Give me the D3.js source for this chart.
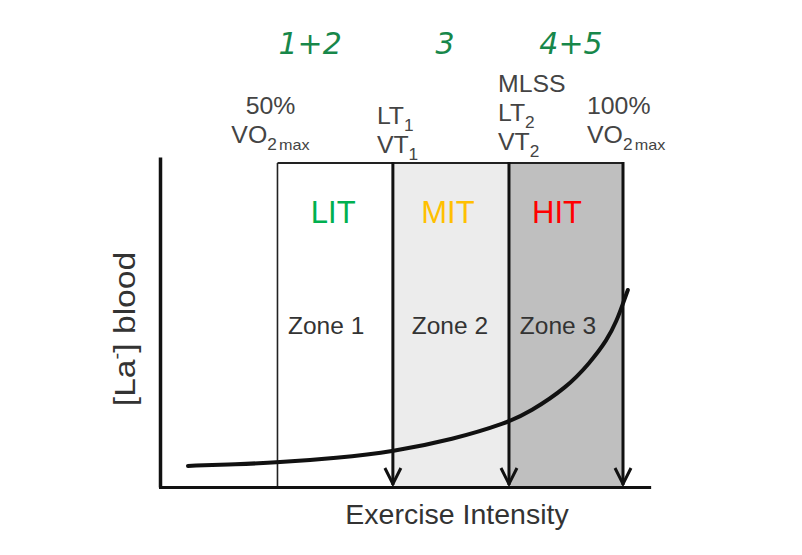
<!DOCTYPE html>
<html><head><meta charset="utf-8">
<script src="https://cdn.jsdelivr.net/npm/d3@7/dist/d3.min.js"></script>
<style>body{margin:0;background:#fff}svg{display:block}</style>
</head><body>
<svg id="c" width="802" height="555"></svg>
<script>
// ---------- data ----------
const thresholdPct = [50, 66.7, 83.5, 100];            // % VO2max
const thresholdLabels = [
  [["50%", ""], ["VO", "2 max"]],
  [["LT", "1"], ["VT", "1"]],
  [["MLSS", ""], ["LT", "2"], ["VT", "2"]],
  [["100%", ""], ["VO", "2 max"]]
];
const zoneNames = ["Zone 1", "Zone 2", "Zone 3"];
const intensityNames = ["LIT", "MIT", "HIT"];
const sessionNames = ["1+2", "3", "4+5"];
const curvePct = [37.05, 44.1, 49.9, 58.6, 66.7, 75.4, 83.2, 86.5, 91.9, 95.2, 97.7, 99.1, 100, 100.7];
const curveLactate = [0.64, 0.69, 0.74, 0.88, 1.07, 1.44, 1.94, 2.27, 3.02, 3.76, 4.45, 5.04, 5.56, 5.97];
const xTitle = "Exercise Intensity";

// ---------- scales ----------
const svg = d3.select("#c");
const x = d3.scaleLinear().domain([33, 100]).range([160, 623]);
const y = d3.scaleLinear().domain([0, 10]).range([487, 157]);
const boxTop = 163;
const ink = "#111";
const font = "'Liberation Sans', Arial, sans-serif";

// ---------- zones ----------
const zoneFill = ["#ffffff", "#ececec", "#bfbfbf"];
const zones = zoneNames.map((n, i) => ({ name: n, lab: intensityNames[i], x0: thresholdPct[i], x1: thresholdPct[i + 1], fill: zoneFill[i] }));
svg.selectAll("rect.zone").data(zones).join("rect").attr("class", "zone")
  .attr("x", d => x(d.x0)).attr("y", boxTop)
  .attr("width", d => x(d.x1) - x(d.x0)).attr("height", y(0) - boxTop)
  .attr("fill", d => d.fill);

// left thin border + top border
svg.append("line").attr("x1", x(50)).attr("x2", x(50)).attr("y1", boxTop).attr("y2", y(0))
  .attr("stroke", "#222").attr("stroke-width", 1.6);
svg.append("line").attr("x1", x(50)).attr("x2", x(100) + 1).attr("y1", boxTop).attr("y2", boxTop)
  .attr("stroke", "#222").attr("stroke-width", 2.2);

// ---------- zone texts ----------
const intColors = ["#00b050", "#ffc000", "#ff0000"];
const labOff = [-2, -3, -9];
svg.selectAll("text.int").data(zones).join("text").attr("class", "int")
  .attr("x", (d, i) => (x(d.x0) + x(d.x1)) / 2 + labOff[i]).attr("y", 223)
  .attr("text-anchor", "middle").attr("font-family", font).attr("font-size", 31)
  .attr("fill", (d, i) => intColors[i]).text(d => d.lab);
const zoneOff = [-9, -1, -8];
svg.selectAll("text.zn").data(zones).join("text").attr("class", "zn")
  .attr("x", (d, i) => (x(d.x0) + x(d.x1)) / 2 + zoneOff[i]).attr("y", 334)
  .attr("text-anchor", "middle").attr("font-family", font).attr("font-size", 24.5)
  .attr("fill", "#333").text(d => d.name);

// ---------- axes ----------
const yAxis = svg.append("g").attr("transform", `translate(${x(33)},0)`)
  .call(d3.axisLeft(y).tickValues([]).tickSizeOuter(0));
yAxis.select(".domain").attr("stroke", ink).attr("stroke-width", 3.5);
const xAxisScale = d3.scaleLinear().domain([33, 104]).range([x(33) - 1.5, x(104)]);
const xAxis = svg.append("g").attr("transform", `translate(0,${y(0)})`)
  .call(d3.axisBottom(xAxisScale).tickValues([]).tickSizeOuter(0));
xAxis.select(".domain").attr("stroke", ink).attr("stroke-width", 3);

// ---------- threshold arrows ----------
const arrows = thresholdPct.slice(1);
svg.selectAll("line.thr").data(arrows).join("line").attr("class", "thr")
  .attr("x1", d => x(d)).attr("x2", d => x(d)).attr("y1", boxTop - 1).attr("y2", y(0) - 2)
  .attr("stroke", ink).attr("stroke-width", 3);
svg.selectAll("path.head").data(arrows).join("path").attr("class", "head")
  .attr("d", d => `M${x(d) - 8},${y(0) - 19} L${x(d)},${y(0) - 3} L${x(d) + 8},${y(0) - 19}`)
  .attr("fill", "none").attr("stroke", ink).attr("stroke-width", 3).attr("stroke-linejoin", "miter");

// ---------- lactate curve ----------
const pts = curvePct.map((p, i) => [p, curveLactate[i]]);
svg.append("path").datum(pts)
  .attr("d", d3.line().x(d => x(d[0])).y(d => y(d[1])).curve(d3.curveBasis))
  .attr("fill", "none").attr("stroke", ink).attr("stroke-width", 4).attr("stroke-linecap", "round");

// ---------- threshold labels ----------
const labPos = [
  { dx: -7, anchor: "middle", base: 143 },
  { dx: -16, anchor: "start", base: 153 },
  { dx: -11, anchor: "start", base: 150 },
  { dx: -36, anchor: "start", base: 143 }
];
thresholdLabels.forEach((lines, i) => {
  const p = labPos[i];
  const g = svg.append("g");
  lines.forEach((ln, j) => {
    const by = p.base - (lines.length - 1 - j) * 29;
    const t = g.append("text")
      .attr("transform", `translate(${x(thresholdPct[i]) + p.dx},${by}) scale(1.08,1)`)
      .attr("text-anchor", p.anchor).attr("font-family", font).attr("font-size", 23).attr("fill", "#444");
    t.append("tspan").text(ln[0]);
    if (ln[1]) {
      const parts = ln[1].split(" ");
      t.append("tspan").attr("dy", 7).attr("font-size", 16).text(parts[0]);
      if (parts[1]) t.append("tspan").attr("dx", 2).attr("font-size", 15).text(parts[1]);
    }
  });
});

// ---------- handwritten session numbers ----------
const sessOff = [-25, -6, 5];
svg.selectAll("text.sess").data(sessionNames).join("text").attr("class", "sess")
  .attr("x", (d, i) => (x(thresholdPct[i]) + x(thresholdPct[i + 1])) / 2 + sessOff[i])
  .attr("y", 54).attr("text-anchor", "middle")
  .attr("font-family", "'DejaVu Sans', sans-serif").attr("font-weight", 200).attr("font-style", "italic")
  .attr("font-size", 30).attr("fill", "#17874a").text(d => d);

// ---------- axis titles ----------
svg.append("text").attr("x", 457).attr("y", 524).attr("text-anchor", "middle")
  .attr("font-family", font).attr("font-size", 28.5).attr("fill", "#333").text(xTitle);
const yt = svg.append("text").attr("transform", "translate(135,329) rotate(-90) scale(1.12,1)")
  .attr("text-anchor", "middle").attr("font-family", font).attr("font-size", 30).attr("fill", "#333");
yt.append("tspan").text("[La");
yt.append("tspan").attr("dy", -12).attr("font-size", 18).text("-");
yt.append("tspan").attr("dy", 12).text("] blood");
</script>
</body></html>
